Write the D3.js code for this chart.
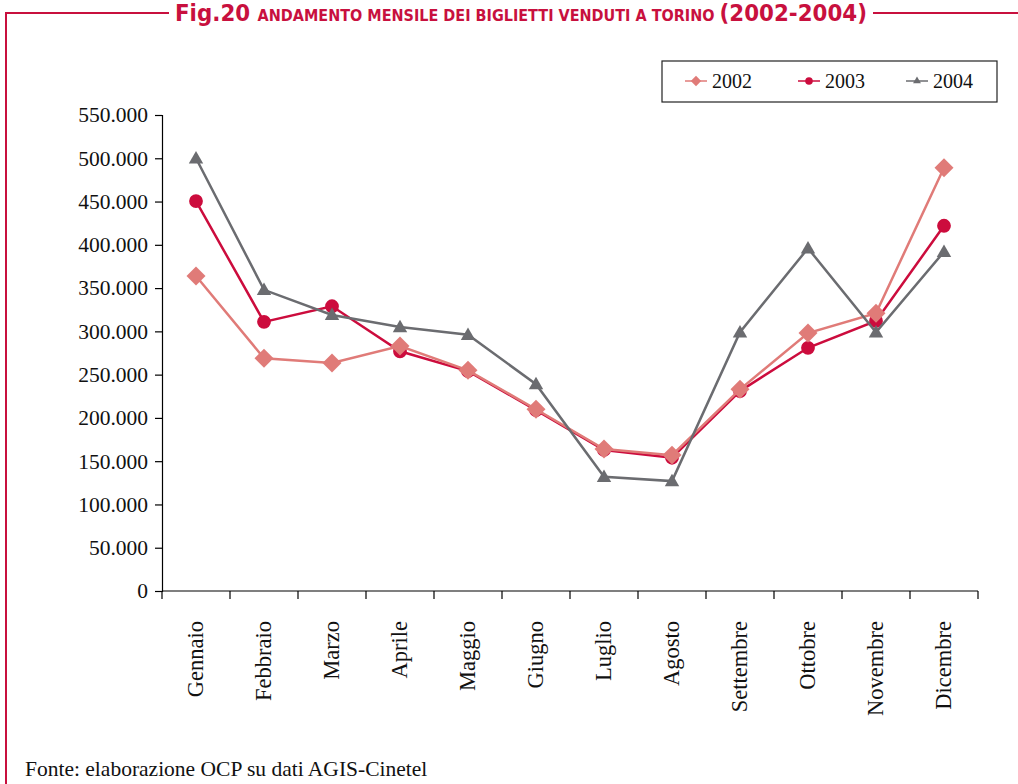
<!DOCTYPE html>
<html>
<head>
<meta charset="utf-8">
<script src="https://cdn.jsdelivr.net/npm/d3@7"></script>
<style>
  body { margin: 0; background: #fff; }
</style>
</head>
<body>
<div id="chart"></div>
<script>
// data
var months = ["Gennaio", "Febbraio", "Marzo", "Aprile", "Maggio", "Giugno",
              "Luglio", "Agosto", "Settembre", "Ottobre", "Novembre", "Dicembre"];
var years = ["2002", "2003", "2004"];
var v2002 = [364000, 269000, 263500, 283000, 255000, 210000, 164000, 157000, 233000, 298000, 321000, 489000];
var v2003 = [450500, 311000, 329000, 277000, 254000, 209000, 163000, 154000, 231000, 281000, 312000, 422000];
var v2004 = [500000, 348000, 319000, 305000, 296000, 239000, 132000, 127000, 299000, 396000, 299000, 392000];
var yTicks = [0, 50000, 100000, 150000, 200000, 250000, 300000, 350000, 400000, 450000, 500000, 550000];

var W = 1018, H = 784;
var red = "#c8103e";
var colors = {"2002": "#e07b78", "2003": "#cc0c3d", "2004": "#6b6c70"};

var margin = {top: 115, right: 40, bottom: 193, left: 162},
    width = 978 - margin.left,
    height = 591 - margin.top;

var svg = d3.select("#chart").append("svg")
  .attr("width", W).attr("height", H);

// frame
svg.append("line").attr("x1", 6).attr("x2", 6).attr("y1", 12).attr("y2", H)
  .attr("stroke", red).attr("stroke-width", 2);

var title = svg.append("text")
  .attr("y", 21)
  .attr("fill", red)
  .style("font-family", "'DejaVu Sans Condensed', 'DejaVu Sans', sans-serif")
  .style("font-weight", "bold");
title.append("tspan").style("font-size", "23px").text("Fig.20 ");
title.append("tspan").style("font-size", "15.5px").text("ANDAMENTO MENSILE DEI BIGLIETTI VENDUTI A TORINO ");
title.append("tspan").style("font-size", "23px").text("(2002-2004)");
var tw = title.node().getComputedTextLength();
if (Math.abs(tw - 692) > 4) {
  title.attr("textLength", 692).attr("lengthAdjust", "spacingAndGlyphs");
  tw = 692;
}
var tx = 521 - tw / 2;
title.attr("x", tx);
svg.append("line").attr("x1", 5).attr("x2", tx - 6).attr("y1", 13).attr("y2", 13)
  .attr("stroke", red).attr("stroke-width", 2);
svg.append("line").attr("x1", tx + tw + 6).attr("x2", W).attr("y1", 13).attr("y2", 13)
  .attr("stroke", red).attr("stroke-width", 2);

var g = svg.append("g")
  .attr("transform", "translate(" + margin.left + "," + margin.top + ")");

var x = d3.scaleBand().domain(months).range([0, width]);
var y = d3.scaleLinear().domain([0, 550000]).range([height, 0]);

var fmt = function(d) { return d3.format(",")(d).replace(/,/g, "."); };

var serif = "'Liberation Serif', 'DejaVu Serif', serif";

// y axis
var yAxis = g.append("g")
  .call(d3.axisLeft(y).tickValues(yTicks).tickFormat(fmt).tickSize(7).tickPadding(7));
yAxis.select(".domain").attr("stroke", "#000").attr("stroke-width", 1.2);
yAxis.selectAll(".tick line").attr("stroke", "#000").attr("stroke-width", 1.2);
yAxis.selectAll("text").style("font-family", serif).style("font-size", "21.5px").attr("fill", "#111");

// x axis with ticks at band edges
var xAxis = g.append("g").attr("transform", "translate(0," + height + ")");
xAxis.append("line").attr("x1", 0).attr("x2", width).attr("stroke", "#000").attr("stroke-width", 1.2);
xAxis.selectAll(".xt").data(months.concat(["end"])).enter().append("line")
  .attr("class", "xt")
  .attr("x1", function(d, i) { return i * x.step(); })
  .attr("x2", function(d, i) { return i * x.step(); })
  .attr("y1", 0).attr("y2", 8)
  .attr("stroke", "#000").attr("stroke-width", 1.2);
xAxis.selectAll(".xl").data(months).enter().append("text")
  .attr("class", "xl")
  .attr("transform", function(d) {
    return "translate(" + (x(d) + x.bandwidth() / 2 + 7) + ",30) rotate(-90)";
  })
  .attr("text-anchor", "end")
  .style("font-family", serif).style("font-size", "22.5px").attr("fill", "#111")
  .text(function(d) { return d; });

// series
var series = {"2002": v2002, "2003": v2003, "2004": v2004};
var line = d3.line()
  .x(function(d, i) { return x(months[i]) + x.bandwidth() / 2; })
  .y(function(d) { return y(d); });

// marker: diamond = rotated square
function marker(sel, yr, scale) {
  if (yr == "2002") {
    sel.attr("d", d3.symbol().type(d3.symbolSquare).size(180 * scale)())
      .attr("transform", function() { return d3.select(this).attr("transform") + " rotate(45)"; });
  } else if (yr == "2003") {
    sel.attr("d", d3.symbol().type(d3.symbolCircle).size(150 * scale)());
  } else {
    sel.attr("d", d3.symbol().type(d3.symbolTriangle).size(90 * scale)());
  }
  sel.attr("fill", colors[yr]);
}

["2003", "2002", "2004"].forEach(function(yr) {
  var sg = g.append("g");
  sg.append("path").datum(series[yr])
    .attr("d", line).attr("fill", "none")
    .attr("stroke", colors[yr]).attr("stroke-width", 2.5);
  sg.selectAll("path.m").data(series[yr]).enter().append("path")
    .attr("class", "m")
    .attr("transform", function(d, i) {
      var dy = yr == "2004" ? 1 : 0;
      return "translate(" + (x(months[i]) + x.bandwidth() / 2) + "," + (y(d) + dy) + ")";
    })
    .call(marker, yr, 1);
});

// legend
var lg = svg.append("g").attr("transform", "translate(662,61)");
lg.append("rect").attr("width", 335).attr("height", 41)
  .attr("fill", "#fff").attr("stroke", "#222").attr("stroke-width", 1.2);
var lx = [23, 136, 244];
years.forEach(function(yr, i) {
  var it = lg.append("g").attr("transform", "translate(" + lx[i] + ",20)");
  it.append("line").attr("x1", 0).attr("x2", 22).attr("stroke", colors[yr]).attr("stroke-width", 1.5);
  it.append("path").attr("transform", "translate(11,0)").call(marker, yr, 0.3);
  it.append("text").attr("x", 27).attr("y", 7)
    .style("font-family", serif).style("font-size", "20px").attr("fill", "#111")
    .text(yr);
});

// source
svg.append("text").attr("x", 25).attr("y", 776)
  .style("font-family", serif).style("font-size", "21.5px").attr("fill", "#111")
  .text("Fonte: elaborazione OCP su dati AGIS-Cinetel");
</script>
</body>
</html>
